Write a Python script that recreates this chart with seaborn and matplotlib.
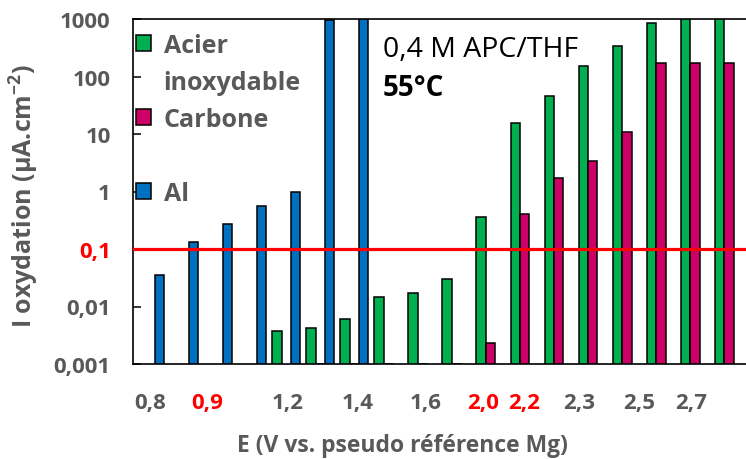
import numpy as np
import pandas as pd
import matplotlib
matplotlib.use("Agg")
import matplotlib.pyplot as plt
import seaborn as sns
from matplotlib.patches import Patch
from matplotlib.ticker import NullLocator

# ---- data -------------------------------------------------------------
categories = ["0,8", "0,9", "1,0", "1,1", "1,2", "1,3", "1,4", "1,5", "1,6",
              "1,8", "2,0", "2,2", "2,3", "2,4", "2,5", "2,6", "2,7", "2,8"]
nan = np.nan
acier = [nan, nan, nan, nan, 0.0038, 0.0042, 0.006, 0.0147, 0.0174, 0.0306,
         0.356, 15.7, 45, 151, 334, 855, 2000, 2000]
carbone = [nan, nan, nan, nan, nan, 0.001, 0.001, 0.001, 0.001, 0.001,
           0.0023, 0.41, 1.7, 3.44, 10.9, 171, 171, 171]
al = [0.035, 0.134, 0.27, 0.55, 1.0, 950, 2000, nan, nan, nan,
      nan, nan, nan, nan, nan, nan, nan, nan]
series_names = ["Acier inoxydable", "Carbone", "Al"]
threshold = 0.1

y_ticks = [0.001, 0.01, 0.1, 1, 10, 100, 1000]
y_tick_labels = ["0,001", "0,01", "0,1", "1", "10", "100", "1000"]
x_tick_labels = ["0,8", "0,9", "1,2", "1,4", "1,6", "2,0", "2,2", "2,3", "2,5", "2,7"]
x_tick_pos = [0.0, 1.67, 4.05, 6.1, 8.1, 9.78, 10.98, 12.6, 14.36, 15.9]
red_x_labels = {"0,9", "2,0", "2,2"}

# ---- style ------------------------------------------------------------
sns.set_style("white")
plt.rcParams["font.family"] = ["Open Sans", "DejaVu Sans"]
plt.rcParams["mathtext.fontset"] = "custom"
plt.rcParams["mathtext.rm"] = "Open Sans"
plt.rcParams["mathtext.bf"] = "Open Sans:bold"

colors = {"Acier inoxydable": "#00B050", "Carbone": "#CC0066", "Al": "#0070C0"}
grey = "#595959"

df = pd.DataFrame({
    "E": categories * 3,
    "I": acier + carbone + al,
    "Electrode": sum([[n] * len(categories) for n in series_names], []),
})

fig = plt.figure(figsize=(7.46, 4.6), dpi=100)
ax = fig.add_axes([133 / 746, 95 / 460, 613 / 746, 345 / 460])

sns.barplot(data=df, x="E", y="I", hue="Electrode", order=categories,
            hue_order=series_names, palette=colors, saturation=1, width=0.83,
            edgecolor="black", linewidth=1.1, errorbar=None,
            legend=False, ax=ax)

ax.set_yscale("log")
ax.set_ylim(1e-3, 1e3)
ax.set_xlim(-0.5, len(categories) - 0.5)

ax.axhline(threshold, color="#FF0000", lw=2.3, zorder=5)

# axes / spines
for s in ["left", "top", "bottom"]:
    ax.spines[s].set_visible(True)
    ax.spines[s].set_color("black")
    ax.spines[s].set_linewidth(1.2)
ax.spines["right"].set_visible(False)

ax.set_yticks(y_ticks)
ax.set_yticklabels(y_tick_labels)
ax.yaxis.set_minor_locator(NullLocator())
ax.tick_params(axis="y", direction="in", length=6, width=1.1, color="black",
               labelsize=16, labelcolor=grey, pad=16, left=True)
for lbl in ax.get_yticklabels():
    lbl.set_fontweight("bold")
    if lbl.get_text() == "0,1":
        lbl.set_color("#FF0000")

ax.set_xticks(x_tick_pos)
ax.set_xticklabels(x_tick_labels)
ax.tick_params(axis="x", length=0, labelsize=16, labelcolor=grey, pad=20)
for lbl in ax.get_xticklabels():
    lbl.set_fontweight("bold")
    if lbl.get_text() in red_x_labels:
        lbl.set_color("#FF0000")

ax.set_xlabel("E (V vs. pseudo référence Mg)", fontsize=16.5, fontweight="bold",
              color=grey)
ax.xaxis.set_label_coords(0.44, -0.2)
ax.set_ylabel(r"I oxydation (µA.cm$^{\mathbf{-2}}$)", fontsize=18,
              fontweight="bold", color=grey)
ax.yaxis.set_label_coords(-0.15, 0.49)

# annotations
ax.text(0.408, 0.913, "0,4 M APC/THF", transform=ax.transAxes, fontsize=20.5,
        color="black", va="center", ha="left")
ax.text(0.408, 0.80, "55°C", transform=ax.transAxes, fontsize=20,
        fontweight="bold", color="black", va="center", ha="left")

# legend
blank = Patch(visible=False)
handles = [Patch(facecolor=colors["Acier inoxydable"], edgecolor="black", lw=1.1),
           blank,
           Patch(facecolor=colors["Carbone"], edgecolor="black", lw=1.1),
           blank,
           Patch(facecolor=colors["Al"], edgecolor="black", lw=1.1)]
labels = ["Acier", "inoxydable", "Carbone", "", "Al"]
leg = ax.legend(handles, labels, loc="upper left", bbox_to_anchor=(0.005, 0.96),
                frameon=False, prop={"size": 18, "weight": "bold"},
                handlelength=0.6, handleheight=0.6, handletextpad=0.5,
                labelspacing=0.48, borderpad=0, borderaxespad=0)
for t in leg.get_texts():
    t.set_color(grey)

fig.savefig("out.png", dpi=100)
